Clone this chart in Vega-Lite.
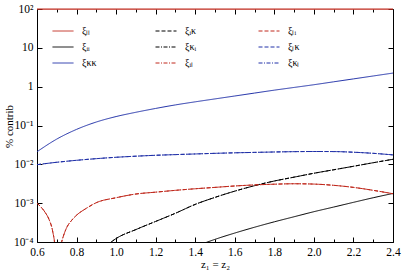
{
  "$schema": "https://vega.github.io/schema/vega-lite/v6.json",
  "width": 356,
  "height": 233,
  "autosize": "none",
  "padding": {"left": 37, "top": 9, "right": 14, "bottom": 29},
  "config": {
    "font": "Liberation Serif",
    "view": {"stroke": null},
    "axis": {"domain": true, "domainColor": "#000", "domainWidth": 1, "grid": false, "tickColor": "#000", "tickWidth": 1, "labelColor": "#000", "titleColor": "#000", "labelFont": "Liberation Serif", "titleFont": "Liberation Serif", "labelFontSize": 11.5, "titleFontSize": 11, "titleFontWeight": "normal"}
  },
  "data": {"values": [
    {"s": "ξₗₗ", "z": 0.6, "v": 99}, {"s": "ξₗₗ", "z": 1.0, "v": 99}, {"s": "ξₗₗ", "z": 1.4, "v": 99}, {"s": "ξₗₗ", "z": 1.8, "v": 99}, {"s": "ξₗₗ", "z": 2.4, "v": 99},
    {"s": "ξᵢᵢ", "z": 1.45, "v": 0.000095}, {"s": "ξᵢᵢ", "z": 1.5, "v": 0.000117}, {"s": "ξᵢᵢ", "z": 1.6, "v": 0.00017}, {"s": "ξᵢᵢ", "z": 1.7, "v": 0.00024}, {"s": "ξᵢᵢ", "z": 1.8, "v": 0.000331}, {"s": "ξᵢᵢ", "z": 1.9, "v": 0.000447}, {"s": "ξᵢᵢ", "z": 2.0, "v": 0.000603}, {"s": "ξᵢᵢ", "z": 2.1, "v": 0.000794}, {"s": "ξᵢᵢ", "z": 2.2, "v": 0.00105}, {"s": "ξᵢᵢ", "z": 2.3, "v": 0.00138}, {"s": "ξᵢᵢ", "z": 2.4, "v": 0.00178},
    {"s": "ξκκ", "z": 0.6, "v": 0.0211}, {"s": "ξκκ", "z": 0.7, "v": 0.0447}, {"s": "ξκκ", "z": 0.8, "v": 0.0794}, {"s": "ξκκ", "z": 0.9, "v": 0.123}, {"s": "ξκκ", "z": 1.0, "v": 0.17}, {"s": "ξκκ", "z": 1.1, "v": 0.219}, {"s": "ξκκ", "z": 1.2, "v": 0.275}, {"s": "ξκκ", "z": 1.3, "v": 0.339}, {"s": "ξκκ", "z": 1.4, "v": 0.407}, {"s": "ξκκ", "z": 1.5, "v": 0.484}, {"s": "ξκκ", "z": 1.6, "v": 0.575}, {"s": "ξκκ", "z": 1.7, "v": 0.684}, {"s": "ξκκ", "z": 1.8, "v": 0.813}, {"s": "ξκκ", "z": 1.9, "v": 0.955}, {"s": "ξκκ", "z": 2.0, "v": 1.122}, {"s": "ξκκ", "z": 2.1, "v": 1.334}, {"s": "ξκκ", "z": 2.2, "v": 1.585}, {"s": "ξκκ", "z": 2.3, "v": 1.884}, {"s": "ξκκ", "z": 2.4, "v": 2.239},
    {"s": "ξᵢκ", "z": 0.95, "v": 0.000079}, {"s": "ξᵢκ", "z": 1.0, "v": 0.000123}, {"s": "ξᵢκ", "z": 1.1, "v": 0.000209}, {"s": "ξᵢκ", "z": 1.2, "v": 0.000339}, {"s": "ξᵢκ", "z": 1.3, "v": 0.00055}, {"s": "ξᵢκ", "z": 1.4, "v": 0.00093}, {"s": "ξᵢκ", "z": 1.5, "v": 0.00141}, {"s": "ξᵢκ", "z": 1.6, "v": 0.00204}, {"s": "ξᵢκ", "z": 1.7, "v": 0.00282}, {"s": "ξᵢκ", "z": 1.8, "v": 0.00372}, {"s": "ξᵢκ", "z": 1.9, "v": 0.00468}, {"s": "ξᵢκ", "z": 2.0, "v": 0.00589}, {"s": "ξᵢκ", "z": 2.1, "v": 0.00724}, {"s": "ξᵢκ", "z": 2.2, "v": 0.00891}, {"s": "ξᵢκ", "z": 2.3, "v": 0.011}, {"s": "ξᵢκ", "z": 2.4, "v": 0.0135},
    {"s": "ξκᵢ", "z": 0.95, "v": 0.000079}, {"s": "ξκᵢ", "z": 1.0, "v": 0.000123}, {"s": "ξκᵢ", "z": 1.1, "v": 0.000209}, {"s": "ξκᵢ", "z": 1.2, "v": 0.000339}, {"s": "ξκᵢ", "z": 1.3, "v": 0.00055}, {"s": "ξκᵢ", "z": 1.4, "v": 0.00093}, {"s": "ξκᵢ", "z": 1.5, "v": 0.00141}, {"s": "ξκᵢ", "z": 1.6, "v": 0.00204}, {"s": "ξκᵢ", "z": 1.7, "v": 0.00282}, {"s": "ξκᵢ", "z": 1.8, "v": 0.00372}, {"s": "ξκᵢ", "z": 1.9, "v": 0.00468}, {"s": "ξκᵢ", "z": 2.0, "v": 0.00589}, {"s": "ξκᵢ", "z": 2.1, "v": 0.00724}, {"s": "ξκᵢ", "z": 2.2, "v": 0.00891}, {"s": "ξκᵢ", "z": 2.3, "v": 0.011}, {"s": "ξκᵢ", "z": 2.4, "v": 0.0135},
    {"s": "ξᵢₗ", "z": 0.6, "v": 0.001}, {"s": "ξᵢₗ", "z": 0.62, "v": 0.000796}, {"s": "ξᵢₗ", "z": 0.64, "v": 0.00059}, {"s": "ξᵢₗ", "z": 0.66, "v": 0.00039}, {"s": "ξᵢₗ", "z": 0.68, "v": 0.00018}, {"s": "ξᵢₗ", "z": 0.69, "v": 0.000082}, {"s": "ξᵢₗ", "z": 0.7, "v": 0.00001}, {"s": "ξᵢₗ", "z": 0.71, "v": 0.00004}, {"s": "ξᵢₗ", "z": 0.72, "v": 0.00008}, {"s": "ξᵢₗ", "z": 0.73, "v": 0.000125}, {"s": "ξᵢₗ", "z": 0.75, "v": 0.000234}, {"s": "ξᵢₗ", "z": 0.775, "v": 0.00036}, {"s": "ξᵢₗ", "z": 0.8, "v": 0.00049}, {"s": "ξᵢₗ", "z": 0.85, "v": 0.00074}, {"s": "ξᵢₗ", "z": 0.9, "v": 0.00103}, {"s": "ξᵢₗ", "z": 1.0, "v": 0.00138}, {"s": "ξᵢₗ", "z": 1.1, "v": 0.00172}, {"s": "ξᵢₗ", "z": 1.2, "v": 0.00192}, {"s": "ξᵢₗ", "z": 1.3, "v": 0.00214}, {"s": "ξᵢₗ", "z": 1.4, "v": 0.00235}, {"s": "ξᵢₗ", "z": 1.5, "v": 0.00255}, {"s": "ξᵢₗ", "z": 1.6, "v": 0.00277}, {"s": "ξᵢₗ", "z": 1.7, "v": 0.00295}, {"s": "ξᵢₗ", "z": 1.8, "v": 0.00308}, {"s": "ξᵢₗ", "z": 1.9, "v": 0.00316}, {"s": "ξᵢₗ", "z": 2.0, "v": 0.0031}, {"s": "ξᵢₗ", "z": 2.1, "v": 0.00288}, {"s": "ξᵢₗ", "z": 2.2, "v": 0.00255}, {"s": "ξᵢₗ", "z": 2.3, "v": 0.00214}, {"s": "ξᵢₗ", "z": 2.4, "v": 0.00175},
    {"s": "ξₗᵢ", "z": 0.6, "v": 0.001}, {"s": "ξₗᵢ", "z": 0.62, "v": 0.000796}, {"s": "ξₗᵢ", "z": 0.64, "v": 0.00059}, {"s": "ξₗᵢ", "z": 0.66, "v": 0.00039}, {"s": "ξₗᵢ", "z": 0.68, "v": 0.00018}, {"s": "ξₗᵢ", "z": 0.69, "v": 0.000082}, {"s": "ξₗᵢ", "z": 0.7, "v": 0.00001}, {"s": "ξₗᵢ", "z": 0.71, "v": 0.00004}, {"s": "ξₗᵢ", "z": 0.72, "v": 0.00008}, {"s": "ξₗᵢ", "z": 0.73, "v": 0.000125}, {"s": "ξₗᵢ", "z": 0.75, "v": 0.000234}, {"s": "ξₗᵢ", "z": 0.775, "v": 0.00036}, {"s": "ξₗᵢ", "z": 0.8, "v": 0.00049}, {"s": "ξₗᵢ", "z": 0.85, "v": 0.00074}, {"s": "ξₗᵢ", "z": 0.9, "v": 0.00103}, {"s": "ξₗᵢ", "z": 1.0, "v": 0.00138}, {"s": "ξₗᵢ", "z": 1.1, "v": 0.00172}, {"s": "ξₗᵢ", "z": 1.2, "v": 0.00192}, {"s": "ξₗᵢ", "z": 1.3, "v": 0.00214}, {"s": "ξₗᵢ", "z": 1.4, "v": 0.00235}, {"s": "ξₗᵢ", "z": 1.5, "v": 0.00255}, {"s": "ξₗᵢ", "z": 1.6, "v": 0.00277}, {"s": "ξₗᵢ", "z": 1.7, "v": 0.00295}, {"s": "ξₗᵢ", "z": 1.8, "v": 0.00308}, {"s": "ξₗᵢ", "z": 1.9, "v": 0.00316}, {"s": "ξₗᵢ", "z": 2.0, "v": 0.0031}, {"s": "ξₗᵢ", "z": 2.1, "v": 0.00288}, {"s": "ξₗᵢ", "z": 2.2, "v": 0.00255}, {"s": "ξₗᵢ", "z": 2.3, "v": 0.00214}, {"s": "ξₗᵢ", "z": 2.4, "v": 0.00175},
    {"s": "ξₗκ", "z": 0.6, "v": 0.0098}, {"s": "ξₗκ", "z": 0.7, "v": 0.0113}, {"s": "ξₗκ", "z": 0.8, "v": 0.0127}, {"s": "ξₗκ", "z": 0.9, "v": 0.014}, {"s": "ξₗκ", "z": 1.0, "v": 0.0152}, {"s": "ξₗκ", "z": 1.1, "v": 0.0162}, {"s": "ξₗκ", "z": 1.2, "v": 0.0171}, {"s": "ξₗκ", "z": 1.3, "v": 0.0178}, {"s": "ξₗκ", "z": 1.4, "v": 0.0185}, {"s": "ξₗκ", "z": 1.5, "v": 0.0192}, {"s": "ξₗκ", "z": 1.6, "v": 0.0198}, {"s": "ξₗκ", "z": 1.7, "v": 0.0203}, {"s": "ξₗκ", "z": 1.8, "v": 0.0208}, {"s": "ξₗκ", "z": 1.9, "v": 0.0212}, {"s": "ξₗκ", "z": 2.0, "v": 0.0214}, {"s": "ξₗκ", "z": 2.1, "v": 0.0213}, {"s": "ξₗκ", "z": 2.2, "v": 0.0205}, {"s": "ξₗκ", "z": 2.3, "v": 0.0192}, {"s": "ξₗκ", "z": 2.4, "v": 0.0175},
    {"s": "ξκₗ", "z": 0.6, "v": 0.0098}, {"s": "ξκₗ", "z": 0.7, "v": 0.0113}, {"s": "ξκₗ", "z": 0.8, "v": 0.0127}, {"s": "ξκₗ", "z": 0.9, "v": 0.014}, {"s": "ξκₗ", "z": 1.0, "v": 0.0152}, {"s": "ξκₗ", "z": 1.1, "v": 0.0162}, {"s": "ξκₗ", "z": 1.2, "v": 0.0171}, {"s": "ξκₗ", "z": 1.3, "v": 0.0178}, {"s": "ξκₗ", "z": 1.4, "v": 0.0185}, {"s": "ξκₗ", "z": 1.5, "v": 0.0192}, {"s": "ξκₗ", "z": 1.6, "v": 0.0198}, {"s": "ξκₗ", "z": 1.7, "v": 0.0203}, {"s": "ξκₗ", "z": 1.8, "v": 0.0208}, {"s": "ξκₗ", "z": 1.9, "v": 0.0212}, {"s": "ξκₗ", "z": 2.0, "v": 0.0214}, {"s": "ξκₗ", "z": 2.1, "v": 0.0213}, {"s": "ξκₗ", "z": 2.2, "v": 0.0205}, {"s": "ξκₗ", "z": 2.3, "v": 0.0192}, {"s": "ξκₗ", "z": 2.4, "v": 0.0175}
  ]},
  "layer": [
    {
      "transform": [{"filter": "datum.s != 'ξₗₗ'"}],
      "mark": {"type": "line", "clip": true, "strokeWidth": 1, "interpolate": "monotone"},
      "encoding": {
        "x": {"field": "z", "type": "quantitative", "scale": {"domain": [0.6, 2.4], "nice": false, "zero": false},
              "axis": {"orient": "bottom", "values": [0.6, 0.8, 1.0, 1.2, 1.4, 1.6, 1.8, 2.0, 2.2, 2.4], "format": ".1f", "tickSize": -5, "labelPadding": 9, "title": "z₁ = z₂", "titlePadding": 1, "labelFlush": false}},
        "y": {"field": "v", "type": "quantitative", "scale": {"type": "log", "domain": [0.0001, 100], "nice": false},
              "axis": {"orient": "left", "values": [0.0001, 0.001, 0.01, 0.1, 1, 10, 100], "tickSize": -5, "labelPadding": 9, "title": "% contrib", "titleX": -25, "titleY": 117, "titleAngle": -90, "titleAlign": "center", "titleBaseline": "alphabetic",
                       "labelExpr": "round(log(datum.value)/LN10) == 2 ? '10²' : round(log(datum.value)/LN10) == 1 ? '10' : round(log(datum.value)/LN10) == 0 ? '1' : round(log(datum.value)/LN10) == -1 ? '10⁻¹' : round(log(datum.value)/LN10) == -2 ? '10⁻²' : round(log(datum.value)/LN10) == -3 ? '10⁻³' : '10⁻⁴'"}},
        "color": {"field": "s", "type": "nominal",
                  "scale": {"domain": ["ξₗₗ", "ξᵢκ", "ξₗᵢ", "ξᵢᵢ", "ξκᵢ", "ξₗκ", "ξκκ", "ξᵢₗ", "ξκₗ"],
                            "range": ["#c0281c", "#000000", "#c0281c", "#000000", "#000000", "#2030a8", "#2030a8", "#c0281c", "#2030a8"]},
                  "legend": {"orient": "none", "legendX": 15, "legendY": 11, "columns": 3, "direction": "horizontal", "gridAlign": "all", "columnPadding": 56, "rowPadding": 0, "padding": 0, "title": null, "symbolType": "stroke", "symbolSize": 441, "symbolStrokeWidth": 1, "labelFontSize": 10, "labelFont": "Liberation Serif", "labelOffset": 8, "labelColor": "#000"}},
        "strokeDash": {"field": "s", "type": "nominal",
                  "scale": {"domain": ["ξₗₗ", "ξᵢκ", "ξₗᵢ", "ξᵢᵢ", "ξκᵢ", "ξₗκ", "ξκκ", "ξᵢₗ", "ξκₗ"],
                            "range": [[1, 0], [4, 2], [4, 2], [1, 0], [4, 1.5, 1, 1.5], [4, 2], [1, 0], [4, 1.5, 1, 1.5], [4, 1.5, 1, 1.5]]},
                  "legend": {"orient": "none", "legendX": 15, "legendY": 11, "columns": 3, "direction": "horizontal", "gridAlign": "all", "columnPadding": 56, "rowPadding": 0, "padding": 0, "title": null, "symbolType": "stroke", "symbolSize": 441, "symbolStrokeWidth": 1, "labelFontSize": 10, "labelFont": "Liberation Serif", "labelOffset": 8, "labelColor": "#000"}}
      }
    },
    {
      "mark": {"type": "point", "opacity": 0},
      "encoding": {
        "x": {"field": "z", "type": "quantitative", "axis": {"orient": "bottom", "domain": false, "values": [0.7, 0.9, 1.1, 1.3, 1.5, 1.7, 1.9, 2.1, 2.3], "tickSize": -3, "labels": false, "title": null}},
        "y": {"field": "v", "type": "quantitative", "axis": {"orient": "right", "values": [0.0001, 0.001, 0.01, 0.1, 1, 10, 100], "tickSize": -5, "labels": false, "title": null}}
      }
    },
    {
      "mark": {"type": "point", "opacity": 0},
      "encoding": {
        "x": {"field": "z", "type": "quantitative", "axis": {"orient": "top", "domain": false, "values": [0.6, 0.8, 1.0, 1.2, 1.4, 1.6, 1.8, 2.0, 2.2, 2.4], "tickSize": -5, "labels": false, "title": null}},
        "y": {"field": "v", "type": "quantitative", "axis": null}
      }
    },
    {
      "mark": {"type": "point", "opacity": 0},
      "encoding": {
        "x": {"field": "z", "type": "quantitative", "axis": {"orient": "top", "domain": false, "values": [0.7, 0.9, 1.1, 1.3, 1.5, 1.7, 1.9, 2.1, 2.3], "tickSize": -3, "labels": false, "title": null}},
        "y": {"field": "v", "type": "quantitative", "axis": null}
      }
    },
    {
      "transform": [{"filter": "datum.s == 'ξₗₗ'"}],
      "mark": {"type": "line", "clip": false, "strokeWidth": 1.2},
      "encoding": {
        "x": {"field": "z", "type": "quantitative", "axis": null},
        "y": {"field": "v", "type": "quantitative", "axis": null},
        "color": {"field": "s", "type": "nominal", "legend": {"orient": "none", "legendX": 15, "legendY": 11, "columns": 3, "direction": "horizontal", "gridAlign": "all", "columnPadding": 56, "rowPadding": 0, "padding": 0, "title": null, "symbolType": "stroke", "symbolSize": 441, "symbolStrokeWidth": 1, "labelFontSize": 10, "labelFont": "Liberation Serif", "labelOffset": 8, "labelColor": "#000"}},
        "strokeDash": {"field": "s", "type": "nominal", "legend": {"orient": "none", "legendX": 15, "legendY": 11, "columns": 3, "direction": "horizontal", "gridAlign": "all", "columnPadding": 56, "rowPadding": 0, "padding": 0, "title": null, "symbolType": "stroke", "symbolSize": 441, "symbolStrokeWidth": 1, "labelFontSize": 10, "labelFont": "Liberation Serif", "labelOffset": 8, "labelColor": "#000"}}
      }
    }
  ],
  "resolve": {"axis": {"x": "independent", "y": "independent"}}
}
